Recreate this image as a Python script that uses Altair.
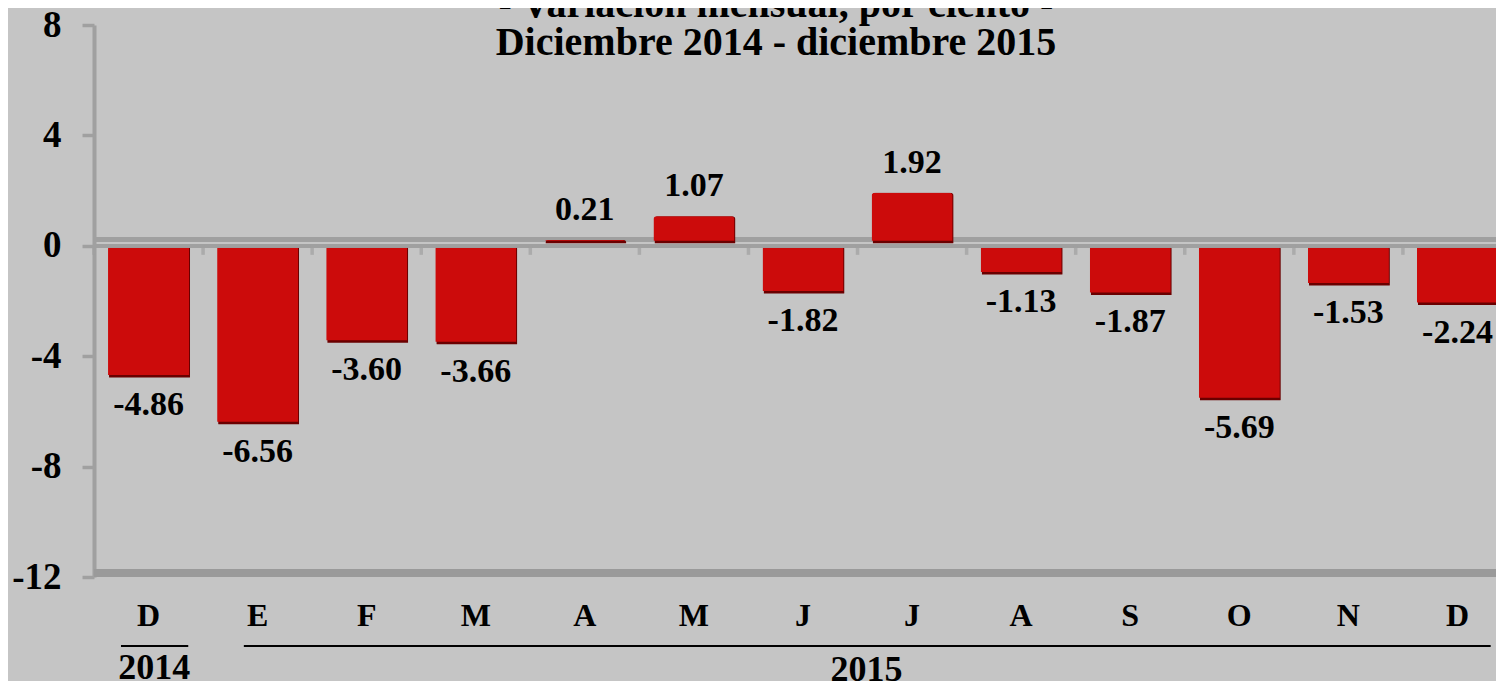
import altair as alt
import pandas as pd

# ---------------- data ----------------
months = ["Diciembre 2014", "Enero 2015", "Febrero 2015", "Marzo 2015", "Abril 2015",
          "Mayo 2015", "Junio 2015", "Julio 2015", "Agosto 2015", "Septiembre 2015",
          "Octubre 2015", "Noviembre 2015", "Diciembre 2015"]
values = [-4.86, -6.56, -3.60, -3.66, 0.21, 1.07, -1.82, 1.92, -1.13, -1.87, -5.69, -1.53, -2.24]
y_ticks = [-12, -8, -4, 0, 4, 8]
title_lines = ["- Variación mensual, por ciento -", "Diciembre 2014 - diciembre 2015"]
years = ["2014", "2015"]
year_first = ["Diciembre 2014", "Enero 2015"]
year_last = ["Diciembre 2014", "Diciembre 2015"]
year_label_at = ["Diciembre 2014", "Julio 2015"]

df = pd.DataFrame({"mes": months, "valor": values})
df["etiqueta"] = [f"{v:.2f}" for v in values]
years_df = pd.DataFrame({"anio": years, "first": year_first, "last": year_last, "at": year_label_at})
one = pd.DataFrame({"titulo": ["\n".join(title_lines)]})

# ---------------- style ----------------
FONT = "Liberation Serif"
BG = "#c5c5c5"
GRID = "#a0a0a0"
W, H = 1402, 552
XRANGE = 1418
PAD_IN = 0.257
HALF_GAP = XRANGE / 13 * PAD_IN / 2

xscale = alt.Scale(domain=months, range=[0, XRANGE], paddingInner=PAD_IN, paddingOuter=PAD_IN / 2)
yscale = alt.Scale(domain=[-12, 8], nice=False, zero=False)

x_axis = alt.Axis(title=None, domain=False, ticks=False, tickSize=0,
                  labelExpr="slice(datum.value, 0, 1)", labelAngle=0,
                  labelFont=FONT, labelFontSize=32, labelFontWeight="bold",
                  labelColor="black", labelPadding=38, labelBaseline="middle")
y_axis = alt.Axis(title=None, values=y_ticks, grid=False,
                  domainColor=GRID, domainWidth=4,
                  tickColor=GRID, tickWidth=3.5, tickSize=12,
                  labelExpr="toString(datum.value)",
                  labelFont=FONT, labelFontSize=37, labelFontWeight="bold",
                  labelColor="black", labelPadding=21)


def xf(field="mes", **kw):
    return alt.X(f"{field}:N", scale=xscale, axis=x_axis, **kw)


def yf():
    return alt.Y("valor:Q", scale=yscale, axis=y_axis)


def yd(v):
    return alt.YDatum(v, scale=yscale, axis=y_axis)


base = alt.Chart(df)

back_line = base.mark_rule(color=GRID, strokeWidth=4, yOffset=-6).encode(y=yd(0))
floor = base.mark_rule(color="#9a9a9a", strokeWidth=8, yOffset=-4).encode(y=yd(-12))
shadow = base.mark_bar(color="#6a0000", cornerRadius=3, xOffset=1, yOffset=-2.5, y2Offset=-2.5).encode(
    x=xf(), y=yf())
bars = base.mark_bar(color="#cc0b0b", cornerRadius=3, yOffset=-5, y2Offset=-5).encode(
    x=xf(), y=yf())
zero_line = base.mark_rule(color=GRID, strokeWidth=3).encode(y=yd(0))
zero_ticks = base.mark_tick(orient="vertical", color=GRID, size=9, thickness=3.5,
                            xOffset=-HALF_GAP, yOffset=4.5).encode(
    x=xf(bandPosition=0), y=yd(0))

lbl_neg = base.transform_filter("datum.valor < 0").mark_text(
    font=FONT, fontSize=34, fontWeight="bold", color="black", baseline="middle", dy=25).encode(
    x=xf(), y=yf(), text="etiqueta:N")
lbl_pos = base.transform_filter("datum.valor >= 0").mark_text(
    font=FONT, fontSize=34, fontWeight="bold", color="black", baseline="middle", dy=-30).encode(
    x=xf(), y=yf(), text="etiqueta:N")

title = alt.Chart(one).mark_text(
    font=FONT, fontSize=40, fontWeight="bold", color="black", align="center",
    baseline="alphabetic", lineBreak="\n", lineHeight=38).encode(
    x=alt.value(682), y=alt.value(-8), text="titulo:N")

years_base = alt.Chart(years_df)
line_2014 = years_base.transform_filter("datum.anio == '2014'").mark_rule(
    color="black", strokeWidth=2).encode(
    x=xf("first", bandPosition=0.16), x2=alt.X2("last:N", bandPosition=0.99),
    y=alt.value(H + 69))
line_2015 = years_base.transform_filter("datum.anio == '2015'").mark_rule(
    color="black", strokeWidth=2).encode(
    x=xf("first", bandPosition=0.33), x2=alt.X2("last:N", bandPosition=0.91),
    y=alt.value(H + 69))
year_2014 = years_base.transform_filter("datum.anio == '2014'").mark_text(
    font=FONT, fontSize=36, fontWeight="bold", color="black", baseline="middle").encode(
    x=xf("at", bandPosition=0.57), y=alt.value(H + 91), text="anio:N")
year_2015 = years_base.transform_filter("datum.anio == '2015'").mark_text(
    font=FONT, fontSize=36, fontWeight="bold", color="black", baseline="middle", xOffset=-5).encode(
    x=xf("at", bandPosition=0), y=alt.value(H + 93), text="anio:N")

chart = alt.layer(
    back_line, floor, shadow, bars, zero_line, zero_ticks,
    lbl_neg, lbl_pos, title, line_2014, line_2015, year_2014, year_2015
).properties(
    width=W, height=H,
    autosize=alt.AutoSizeParams(type="none"),
    padding={"left": 86, "top": 17, "right": 0, "bottom": 104},
    background=BG,
).configure_view(strokeWidth=0)

chart.save("out.html", embed_options={"renderer": "svg", "actions": False})
